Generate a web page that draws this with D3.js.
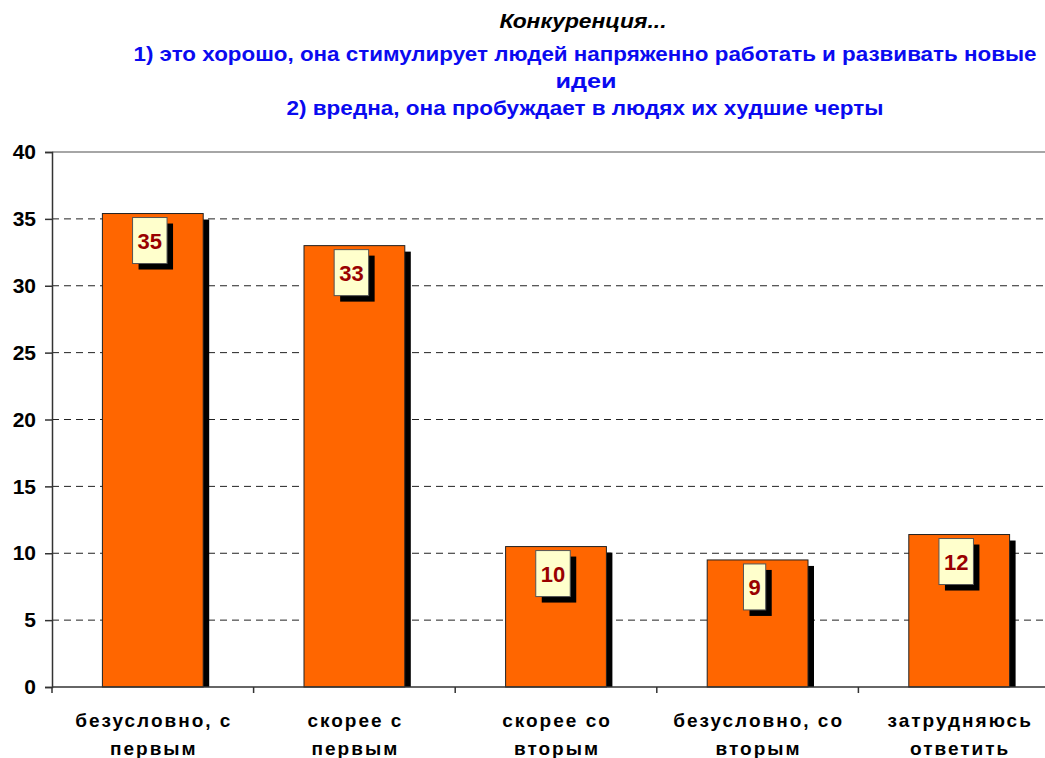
<!DOCTYPE html>
<html><head><meta charset="utf-8">
<script src="https://cdn.jsdelivr.net/npm/d3@7"></script>
<style>
html,body{margin:0;padding:0;background:#fff;}
svg{display:block;font-family:"Liberation Sans",Arial,sans-serif;}
</style></head>
<body>
<svg id="c" width="1045" height="758"></svg>
<script>
const categories = [["безусловно, с","первым"],["скорее с","первым"],["скорее со","вторым"],["безусловно, со","вторым"],["затрудняюсь","ответить"]];
const values = [35.4, 33.0, 10.5, 9.5, 11.4];
const valueLabels = ["35","33","10","9","12"];
const yTicks = [0,5,10,15,20,25,30,35,40];
const titleLines = ["Конкуренция...","1) это хорошо, она стимулирует людей напряженно работать и развивать новые","идеи","2) вредна, она пробуждает в людях их худшие черты"];

const svg = d3.select("#c");
const L = 52, R = 1060, T = 152, B = 687;
const x = d3.scaleBand().domain(d3.range(categories.length)).range([L, R]).paddingInner(0.5).paddingOuter(0.25);
const y = d3.scaleLinear().domain([0, 40]).range([B, T]);
const step = x.step();

// title
const titleLayout = [
  {cx:583, y:28, w:167, color:"#000", italic:true},
  {cx:585, y:61, w:903, color:"#0a0af0"},
  {cx:586, y:88, w:61, color:"#0a0af0"},
  {cx:585, y:115, w:597, color:"#0a0af0"}
];
titleLines.forEach((t,i)=>{
  const o = titleLayout[i];
  svg.append("text").attr("x", o.cx).attr("y", o.y).attr("text-anchor","middle")
    .attr("font-size",20).attr("font-weight","bold").attr("font-style", o.italic?"italic":"normal")
    .attr("fill",o.color).attr("textLength",o.w).attr("lengthAdjust","spacingAndGlyphs").text(t);
});

// gridlines
svg.append("g").selectAll("line").data(yTicks.filter(v=>v>0 && v<40)).join("line")
  .attr("x1", L).attr("x2", R).attr("y1", d=>y(d)).attr("y2", d=>y(d))
  .attr("stroke","#222").attr("stroke-width",1).attr("stroke-dasharray","7,5");
// top border
svg.append("line").attr("x1",L).attr("x2",R).attr("y1",y(40)).attr("y2",y(40)).attr("stroke","#888").attr("stroke-width",1.5);

// bars
const g = svg.append("g");
const n = values.length;
g.selectAll("rect.sh").data(values).join("rect").attr("class","sh")
  .attr("x",(d,i)=>x(i)+6).attr("y",d=>y(d)+6).attr("width",x.bandwidth()).attr("height",d=>B-y(d)-6)
  .attr("fill","#000");
g.selectAll("rect.bar").data(values).join("rect").attr("class","bar")
  .attr("x",(d,i)=>x(i)).attr("y",d=>y(d)).attr("width",x.bandwidth()).attr("height",d=>B-y(d))
  .attr("fill","#ff6600").attr("stroke","#222").attr("stroke-width",1);

// axes
const yAxis = d3.axisLeft(y).tickValues(yTicks).tickSize(7).tickPadding(9);
const ya = svg.append("g").attr("transform",`translate(${L},0)`).call(yAxis);
ya.select(".domain").attr("stroke","#333").attr("stroke-width",1.5);
ya.selectAll(".tick line").attr("stroke","#333").attr("stroke-width",1.5);
ya.selectAll(".tick text").attr("font-size",21).attr("font-weight","bold").attr("fill","#000")
  .attr("font-family","Liberation Sans, Arial, sans-serif");

const xb = svg.append("g");
xb.append("line").attr("x1",L).attr("x2",R).attr("y1",B).attr("y2",B).attr("stroke","#333").attr("stroke-width",1.5);
xb.selectAll("line.t").data(d3.range(n+1)).join("line").attr("class","t")
  .attr("x1",i=>L+i*step).attr("x2",i=>L+i*step).attr("y1",B).attr("y2",B+6).attr("stroke","#333").attr("stroke-width",1.5);
const xl = xb.selectAll("text").data(categories).join("text")
  .attr("text-anchor","middle").attr("font-size",19).attr("font-weight","bold").attr("letter-spacing",2).attr("fill","#000");
xl.append("tspan").attr("x",(d,i)=>x(i)+x.bandwidth()/2+1).attr("y",727).text(d=>d[0]);
xl.append("tspan").attr("x",(d,i)=>x(i)+x.bandwidth()/2+1).attr("y",755).text(d=>d[1]);

// value label boxes
const lg = svg.append("g");
values.forEach((v,i)=>{
  const cx = x(i)+x.bandwidth()/2 - 3;
  const top = y(v)+4;
  const t = lg.append("text").attr("font-size",22).attr("font-weight","bold").attr("fill","#990000")
    .attr("text-anchor","middle").attr("x",cx).attr("y",top+31).text(valueLabels[i]);
  const w = t.node().getComputedTextLength() + 10;
  lg.insert("rect","text").attr("x",cx-w/2+6).attr("y",top+6).attr("width",w).attr("height",46).attr("fill","#000");
  lg.insert("rect","text").attr("x",cx-w/2).attr("y",top).attr("width",w).attr("height",46)
    .attr("fill","#ffffcc").attr("stroke","#555").attr("stroke-width",1);
});
</script>
</body></html>
